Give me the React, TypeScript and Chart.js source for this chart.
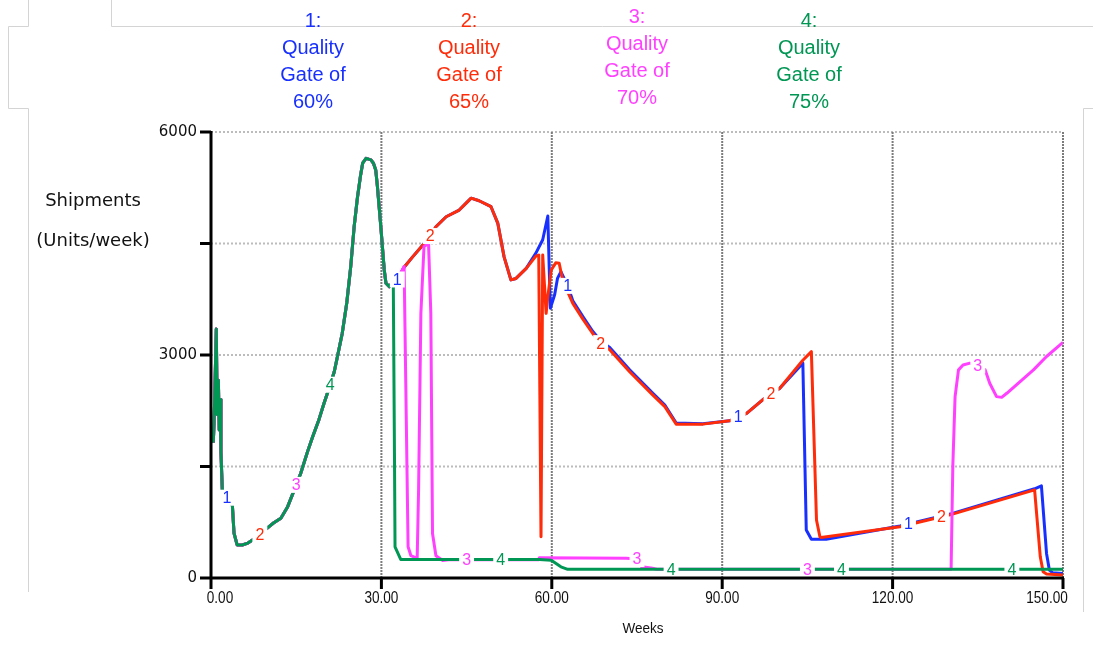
import { useEffect, useRef } from "react";
import { Chart, registerables } from "chart.js";

Chart.register(...registerables);

// Shared start-up period (all four runs coincide until week 32)
const rampWeeks = [0.4, 0.55, 0.93, 1.1, 1.3, 1.45, 1.6, 1.75, 2.0, 3.0, 3.76, 4.05, 4.6, 5.5, 6.5, 7.3, 8.6, 9.9, 11.0, 12.3, 13.5, 14.3, 15.8, 17.0, 17.9, 19.0, 19.9, 21.0, 21.7, 22.4, 23.1, 23.9, 24.6, 25.2, 25.8, 26.3, 26.7, 27.3, 28.15, 28.6, 29.0, 29.3, 29.9, 30.5, 30.8, 31.4, 31.8, 32.1];
const rampShipments = [1820, 2100, 3350, 2200, 2660, 1990, 2400, 1700, 1160, 1060, 980, 605, 444, 444, 470, 510, 590, 670, 740, 805, 960, 1115, 1410, 1700, 1900, 2130, 2350, 2600, 2775, 3030, 3290, 3700, 4190, 4725, 5130, 5400, 5580, 5645, 5625, 5580, 5490, 5265, 4725, 4145, 3965, 3920, 3965, 3920];

// Run 1: quality gate of 60%
const gate60Weeks = [34.0, 35.5, 37.3, 38.6, 39.6, 41.4, 43.7, 45.0, 45.8, 47.2, 49.3, 50.5, 51.6, 52.8, 53.7, 55.5, 57.2, 58.4, 59.3, 59.6, 59.75, 60.5, 61.0, 61.6, 62.8, 63.7, 65.5, 67.2, 68.6, 70.2, 73.7, 77.8, 79.9, 81.9, 86.6, 91.3, 94.3, 97.8, 100.1, 104.2, 104.8, 105.7, 108.3, 121.3, 130.1, 145.0, 146.2, 147.1, 147.6, 148.2, 150];
const gate60Shipments = [4180, 4320, 4480, 4600, 4725, 4860, 4950, 5050, 5110, 5075, 4995, 4770, 4320, 4010, 4030, 4165, 4370, 4550, 4870, 4010, 3630, 3810, 4030, 4120, 3930, 3730, 3515, 3320, 3190, 3100, 2800, 2485, 2325, 2085, 2075, 2115, 2215, 2440, 2550, 2890, 645, 520, 520, 700, 860, 1200, 1240, 330, 107, 70, 60];

// Run 2: quality gate of 65%
const gate65Weeks = [34.0, 35.5, 37.3, 38.6, 39.6, 41.4, 43.7, 45.0, 45.8, 47.2, 49.3, 50.5, 51.6, 52.8, 53.7, 55.5, 57.2, 57.7, 58.1, 58.4, 59.0, 59.3, 59.9, 60.7, 61.3, 61.9, 62.8, 63.7, 65.5, 67.2, 68.6, 70.2, 73.7, 77.8, 79.9, 81.9, 86.6, 91.3, 94.3, 97.8, 100.1, 104.2, 105.7, 106.6, 107.2, 107.4, 121.3, 130.1, 145.0, 146.0, 146.5, 147.1, 150];
const gate65Shipments = [4180, 4320, 4480, 4600, 4725, 4860, 4950, 5050, 5110, 5075, 4995, 4770, 4320, 4010, 4030, 4165, 4330, 4345, 555, 4345, 3560, 3785, 4145, 4240, 4235, 4010, 3850, 3695, 3480, 3290, 3160, 3070, 2775, 2460, 2305, 2070, 2070, 2115, 2215, 2440, 2550, 2930, 3045, 780, 555, 545, 690, 850, 1185, 285, 85, 55, 40];

// Run 3: quality gate of 70%
const gate70Weeks = [34.0, 34.7, 35.2, 36.3, 36.55, 36.95, 37.5, 38.3, 38.7, 39.0, 39.6, 40.8, 41.8, 57.7, 57.8, 73.1, 75.0, 75.8, 77.5, 78.5, 130.3, 130.6, 131.0, 131.6, 132.4, 133.6, 135.0, 136.3, 137.1, 138.3, 139.2, 140.1, 142.4, 144.8, 147.1, 150];
const gate70Shipments = [4190, 420, 300, 265, 1200, 3560, 4460, 4500, 3560, 600, 300, 235, 245, 245, 273, 265, 255, 150, 135, 118, 118, 1500, 2440, 2800, 2865, 2890, 2860, 2800, 2620, 2440, 2430, 2485, 2640, 2800, 2980, 3170];

// Run 4: quality gate of 75%
const gate75Weeks = [32.3, 32.4, 33.4, 57.8, 59.9, 61.6, 62.8, 150];
const gate75Shipments = [1680, 420, 250, 250, 240, 150, 117, 117];

// Weeks at which each run's number is written on its curve
const gate60LabelWeeks = [2.8, 32.8, 62.8, 92.8, 122.8];
const gate65LabelWeeks = [8.6, 38.6, 68.6, 98.6, 128.6];
const gate70LabelWeeks = [15, 45, 75, 105, 135];
const gate75LabelWeeks = [21, 51, 81, 111, 141];

const runNumbers = ["1", "2", "3", "4"];
const gatePercents = ["60%", "65%", "70%", "75%"];
const runColors = ["#1830ff", "#ff2c0a", "#ff40ff", "#009654"];

const xTicks = [0, 30, 60, 90, 120, 150];
const yTicks = [0, 1500, 3000, 4500, 6000];
const yTickLabels = ["0", "", "3000", "", "6000"];
const xTitle = "Weeks";
const yTitle = ["Shipments", "(Units/week)"];

const W = 1093;
const H = 654;

type Run = {
  num: string;
  gate: string;
  color: string;
  weeks: number[];
  values: number[];
  labelWeeks: number[];
};

const runs: Run[] = [
  { num: runNumbers[0], gate: gatePercents[0], color: runColors[0], weeks: [...rampWeeks, ...gate60Weeks], values: [...rampShipments, ...gate60Shipments], labelWeeks: gate60LabelWeeks },
  { num: runNumbers[1], gate: gatePercents[1], color: runColors[1], weeks: [...rampWeeks, ...gate65Weeks], values: [...rampShipments, ...gate65Shipments], labelWeeks: gate65LabelWeeks },
  { num: runNumbers[2], gate: gatePercents[2], color: runColors[2], weeks: [...rampWeeks, ...gate70Weeks], values: [...rampShipments, ...gate70Shipments], labelWeeks: gate70LabelWeeks },
  { num: runNumbers[3], gate: gatePercents[3], color: runColors[3], weeks: [...rampWeeks, ...gate75Weeks], values: [...rampShipments, ...gate75Shipments], labelWeeks: gate75LabelWeeks },
];

function valueAt(weeks: number[], values: number[], w: number): number {
  for (let i = 1; i < weeks.length; i++) {
    if (w <= weeks[i]) {
      const t = (w - weeks[i - 1]) / (weeks[i] - weeks[i - 1]);
      return values[i - 1] + t * (values[i] - values[i - 1]);
    }
  }
  return values[values.length - 1];
}

function drawText(ctx: CanvasRenderingContext2D, s: string, x: number, y: number, font: string, color: string, align: CanvasTextAlign = "center", sx = 1) {
  ctx.save();
  ctx.font = font;
  ctx.fillStyle = color;
  ctx.textAlign = align;
  ctx.textBaseline = "middle";
  ctx.translate(x, y);
  ctx.scale(sx, 1);
  ctx.fillText(s, 0, 0);
  ctx.restore();
}

const SANS = "'Liberation Sans', Arial, sans-serif";
const WIDE = "'DejaVu Sans', Verdana, sans-serif";

const decorations = {
  id: "decorations",
  beforeDraw(chart: any) {
    const ctx: CanvasRenderingContext2D = chart.ctx;
    ctx.save();
    ctx.fillStyle = "#ffffff";
    ctx.fillRect(0, 0, W, H);

    // panel outlines
    ctx.strokeStyle = "#d4d4d4";
    ctx.lineWidth = 1;
    ctx.beginPath();
    ctx.moveTo(28.5, 0);
    ctx.lineTo(28.5, 26.5);
    ctx.lineTo(8.5, 26.5);
    ctx.lineTo(8.5, 108.5);
    ctx.lineTo(28.5, 108.5);
    ctx.lineTo(28.5, 592);
    ctx.moveTo(111.5, 0);
    ctx.lineTo(111.5, 26.5);
    ctx.lineTo(W, 26.5);
    ctx.moveTo(W, 108.5);
    ctx.lineTo(1083.5, 108.5);
    ctx.lineTo(1083.5, 612);
    ctx.stroke();

    // run legend across the top
    const colX = [313, 469, 637, 809];
    const colY = [21, 21, 17, 21];
    runs.forEach((r, i) => {
      const lines = [r.num + ":", "Quality", "Gate of", r.gate];
      lines.forEach((s, j) => drawText(ctx, s, colX[i], colY[i] + j * 27, `20px ${SANS}`, r.color));
    });

    // axis titles
    drawText(ctx, yTitle[0], 93, 201, `18px ${WIDE}`, "#111");
    drawText(ctx, yTitle[1], 93, 241, `18px ${WIDE}`, "#111");
    drawText(ctx, xTitle, 643, 629, `15px ${SANS}`, "#111", "center", 0.9);
    ctx.restore();
  },
  beforeDatasetsDraw(chart: any) {
    const ctx: CanvasRenderingContext2D = chart.ctx;
    const xs = chart.scales.x;
    const ys = chart.scales.y;
    const a = chart.chartArea;
    ctx.save();
    ctx.lineWidth = 2;
    ctx.setLineDash([2, 2]);
    ctx.strokeStyle = "#bcbcbc";
    yTicks.slice(1).forEach((v) => {
      const y = ys.getPixelForValue(v);
      ctx.beginPath();
      ctx.moveTo(a.left, y);
      ctx.lineTo(a.right, y);
      ctx.stroke();
    });
    ctx.strokeStyle = "#7c7c7c";
    ctx.setLineDash([2, 1]);
    xTicks.slice(1).forEach((v) => {
      const x = xs.getPixelForValue(v);
      ctx.beginPath();
      ctx.moveTo(x, a.top);
      ctx.lineTo(x, a.bottom);
      ctx.stroke();
    });
    ctx.restore();
  },
  afterDatasetsDraw(chart: any) {
    const ctx: CanvasRenderingContext2D = chart.ctx;
    const xs = chart.scales.x;
    const ys = chart.scales.y;
    const a = chart.chartArea;

    // run numbers written into the curves
    ctx.save();
    ctx.font = `16px ${SANS}`;
    runs.forEach((r) => {
      r.labelWeeks.forEach((w) => {
        const x = xs.getPixelForValue(w);
        const y = ys.getPixelForValue(valueAt(r.weeks, r.values, w));
        const tw = ctx.measureText(r.num).width;
        ctx.fillStyle = "#ffffff";
        ctx.fillRect(x - tw / 2 - 3, y - 8, tw + 6, 16);
        drawText(ctx, r.num, x, y + 1, `16px ${SANS}`, r.color);
      });
    });

    // axes
    ctx.strokeStyle = "#000";
    ctx.lineWidth = 3;
    ctx.setLineDash([]);
    ctx.beginPath();
    ctx.moveTo(a.left, a.top - 1);
    ctx.lineTo(a.left, a.bottom + 11);
    ctx.moveTo(a.left - 1, a.bottom);
    ctx.lineTo(a.right + 1, a.bottom);
    yTicks.forEach((v) => {
      const y = ys.getPixelForValue(v);
      ctx.moveTo(a.left - 11, y);
      ctx.lineTo(a.left, y);
    });
    xTicks.forEach((v) => {
      const x = xs.getPixelForValue(v);
      ctx.moveTo(x, a.bottom);
      ctx.lineTo(x, a.bottom + 11);
    });
    ctx.stroke();

    yTicks.forEach((v, i) => {
      if (!yTickLabels[i]) return;
      drawText(ctx, yTickLabels[i], a.left - 14, ys.getPixelForValue(v), `15px ${WIDE}`, "#111", "right");
    });
    xTicks.forEach((v, i) => {
      let x = xs.getPixelForValue(v);
      if (i === 0) x += 9;
      if (i === xTicks.length - 1) x -= 16;
      drawText(ctx, v.toFixed(2), x, a.bottom + 20, `17px ${SANS}`, "#111", "center", 0.8);
    });
    ctx.restore();
  },
};

export default function App() {
  const ref = useRef<HTMLCanvasElement | null>(null);
  useEffect(() => {
    if (!ref.current) return;
    // later runs are drawn on top of earlier ones
    const datasets = runs.map((r, i) => ({
      label: r.num,
      data: r.weeks.map((w, k) => ({ x: w, y: r.values[k] })),
      borderColor: r.color,
      backgroundColor: r.color,
      borderWidth: 3,
      pointRadius: 0,
      tension: 0,
      fill: false,
      borderJoinStyle: "round" as const,
      order: runs.length - i,
    }));
    const chart = new Chart(ref.current, {
      type: "line",
      data: { datasets },
      options: {
        animation: false,
        responsive: false,
        devicePixelRatio: 1,
        layout: { padding: { left: 211, right: W - 1063, top: 132, bottom: H - 578 } },
        scales: {
          x: { type: "linear", min: 0, max: 150, display: false },
          y: { type: "linear", min: 0, max: 6000, display: false },
        },
        plugins: { legend: { display: false }, tooltip: { enabled: false } },
      },
      plugins: [decorations],
    });
    return () => chart.destroy();
  }, []);
  return (
    <div style={{ position: "fixed", left: 0, top: 0, width: W, height: H }}>
      <canvas ref={ref} width={W} height={H} />
    </div>
  );
}
